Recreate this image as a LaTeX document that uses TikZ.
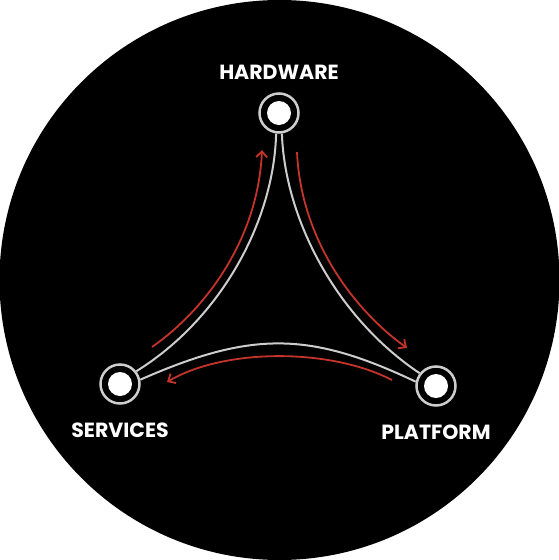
\documentclass[tikz,border=0pt]{standalone}
\usepackage{fontspec}
\setmainfont{Poppins}
\usetikzlibrary{arrows.meta,positioning}
\definecolor{ringgray}{RGB}{205,205,205}
\definecolor{flowred}{RGB}{196,52,42}
\tikzset{>=Stealth}
\tikzset{
  hub/.style={circle,draw=ringgray,line width=2.5pt,minimum size=39pt,inner sep=0pt,fill=black,
    path picture={\fill[white] (path picture bounding box.center) circle (12pt);}},
  lbl/.style={text=white,font=\fontsize{20.5}{20.5}\selectfont\bfseries,inner sep=0pt},
  link/.style={draw=ringgray,line width=2pt},
  flow/.style={draw=flowred,line width=1.8pt,-{Straight Barb[length=6pt,width=11pt]}}
}

\begin{document}
\begin{tikzpicture}[x=1pt,y=-1pt]
\useasboundingbox (0,0) rectangle (559,560);
\fill[white] (0,0) rectangle (559,560);
\fill[black] (279.5,280) circle (280pt);
% the three hubs
\node[hub] (hw) at (279,113) {};
\node[hub] (sv) at (120,384) {};
\node[hub] (pf) at (436,386) {};
\node[lbl, above=13pt of hw] (hwlbl) {HARDWARE};
\node[lbl, below=18pt of sv] (svlbl) {SERVICES};
\node[lbl, below=18pt of pf] (pflbl) {PLATFORM};
% curved sides
\draw[link] (hw.-98) .. controls (274,220) and (222,318) .. (sv.38);
\draw[link] (hw.-82) .. controls (285,220) and (337,318) .. (pf.142);
\draw[link] (sv.12) .. controls (251,331) and (309,331) .. (pf.168);
% flow arrows
\coordinate (a1) at (152,347);
\coordinate (a2) at (262,150);
\coordinate (b1) at (297,152);
\coordinate (b2) at (407,348);
\coordinate (c1) at (392,380);
\coordinate (c2) at (167,382);
\draw[flow] (a1) .. controls (205,310) and (258,240) .. (a2);
\draw[flow] (b1) .. controls (301,240) and (354,310) .. (b2);
\draw[flow] (c1) .. controls (330,348) and (225,348) .. (c2);
\end{tikzpicture}
\end{document}
